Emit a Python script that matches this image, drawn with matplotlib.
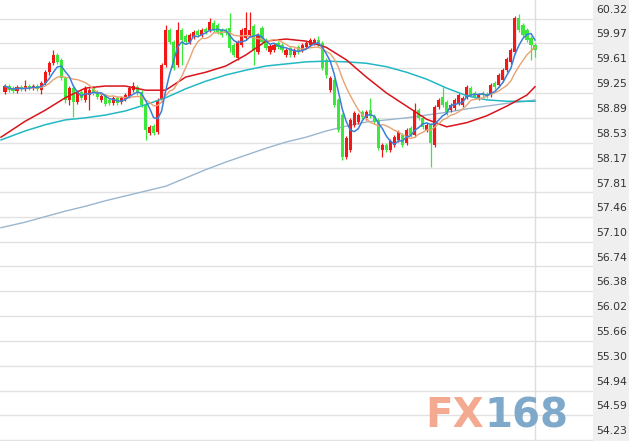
import numpy as np
import pandas as pd
import matplotlib
matplotlib.use('Agg')
import matplotlib.pyplot as plt
from matplotlib.patches import Rectangle

# K线数据 (每根K线: 开/高/低/收)
opens = [59.26, 59.35, 59.32, 59.28, 59.34, 59.31, 59.35, 59.32, 59.35, 59.29,
         59.39, 59.55, 59.68, 59.80, 59.73, 59.47, 59.15, 59.32, 59.12, 59.26,
         59.15, 59.22, 59.32, 59.26, 59.15, 59.21, 59.15, 59.10, 59.18, 59.12,
         59.16, 59.21, 59.29, 59.34, 59.26, 59.08, 58.67, 58.77, 58.69, 59.15,
         59.65, 60.16, 59.99, 59.65, 60.16, 60.07, 59.99, 60.06, 60.15, 60.09,
         60.18, 60.16, 60.26, 60.23, 60.16, 60.16, 60.19, 59.94, 59.76, 59.94,
         60.05, 60.09, 60.22, 59.84, 60.19, 60.02, 59.84, 59.87, 59.97, 59.94,
         59.80, 59.90, 59.80, 59.91, 59.87, 59.91, 59.94, 59.97, 60.02, 59.97,
         59.73, 59.29, 59.44, 59.15, 58.93, 58.32, 58.42, 58.79, 58.83, 58.97,
         58.89, 59.00, 58.92, 58.86, 58.42, 58.50, 58.42, 58.50, 58.57, 58.64,
         58.53, 58.74, 58.64, 59.00, 58.89, 58.71, 58.79, 58.50, 59.05, 59.19,
         59.12, 59.00, 59.03, 59.10, 59.08, 59.19, 59.32, 59.25, 59.18, 59.25,
         59.23, 59.22, 59.39, 59.37, 59.44, 59.58, 59.70, 59.84, 60.34, 60.23,
         60.16, 60.05, 59.94]
closes = [59.35, 59.29, 59.28, 59.34, 59.31, 59.35, 59.32, 59.35, 59.31, 59.39,
          59.55, 59.68, 59.80, 59.70, 59.47, 59.15, 59.32, 59.12, 59.26, 59.18,
          59.32, 59.29, 59.25, 59.19, 59.21, 59.09, 59.10, 59.18, 59.10, 59.18,
          59.22, 59.32, 59.35, 59.25, 59.08, 58.71, 58.76, 58.67, 59.15, 59.65,
          60.16, 59.99, 59.61, 60.16, 60.02, 59.99, 60.09, 60.13, 60.09, 60.16,
          60.13, 60.28, 60.16, 60.13, 60.09, 60.12, 59.90, 59.80, 59.99, 60.16,
          60.19, 60.16, 59.87, 60.09, 59.99, 59.90, 59.93, 59.94, 59.91, 59.87,
          59.87, 59.80, 59.87, 59.84, 59.94, 59.97, 60.02, 60.02, 59.94, 59.61,
          59.51, 59.47, 59.08, 58.71, 58.32, 58.60, 58.86, 58.96, 58.93, 58.90,
          58.97, 58.92, 58.83, 58.45, 58.50, 58.42, 58.56, 58.61, 58.69, 58.50,
          58.71, 58.64, 59.00, 58.89, 58.76, 58.79, 58.53, 59.05, 59.15, 59.08,
          58.96, 59.08, 59.15, 59.22, 59.18, 59.34, 59.22, 59.19, 59.22, 59.22,
          59.21, 59.37, 59.34, 59.51, 59.58, 59.74, 59.87, 60.34, 60.16, 60.09,
          60.02, 59.94, 59.87]
highs = [59.38, 59.38, 59.35, 59.37, 59.37, 59.44, 59.38, 59.38, 59.38, 59.42,
         59.58, 59.71, 59.87, 59.83, 59.76, 59.50, 59.35, 59.35, 59.29, 59.29,
         59.35, 59.32, 59.35, 59.29, 59.23, 59.23, 59.18, 59.21, 59.21, 59.21,
         59.25, 59.35, 59.41, 59.37, 59.29, 59.10, 58.79, 58.80, 59.18, 59.68,
         60.23, 60.19, 60.02, 60.28, 60.19, 60.10, 60.12, 60.16, 60.18, 60.19,
         60.20, 60.34, 60.31, 60.26, 60.19, 60.19, 60.41, 59.97, 60.02, 60.19,
         60.42, 60.42, 60.25, 60.12, 60.22, 60.05, 59.96, 59.97, 60.00, 59.97,
         59.90, 59.93, 59.90, 59.94, 59.97, 60.00, 60.05, 60.05, 60.07, 60.00,
         59.76, 59.50, 59.47, 59.18, 58.96, 58.63, 58.89, 58.99, 58.96, 59.00,
         59.00, 59.18, 58.94, 58.89, 58.53, 58.53, 58.58, 58.64, 58.71, 58.67,
         58.74, 58.77, 59.10, 59.03, 58.92, 58.82, 58.82, 59.08, 59.18, 59.34,
         59.15, 59.10, 59.18, 59.25, 59.21, 59.37, 59.35, 59.28, 59.25, 59.28,
         59.26, 59.39, 59.42, 59.54, 59.61, 59.77, 59.90, 60.36, 60.39, 60.26,
         60.19, 60.07, 59.97]
lows = [59.23, 59.26, 59.25, 59.25, 59.28, 59.28, 59.29, 59.29, 59.28, 59.23,
        59.37, 59.51, 59.65, 59.67, 59.44, 59.10, 59.08, 58.90, 59.09, 59.15,
        59.12, 59.00, 59.22, 59.16, 59.12, 59.06, 59.08, 59.08, 59.08, 59.09,
        59.13, 59.18, 59.26, 59.22, 59.05, 58.57, 58.64, 58.64, 58.66, 59.12,
        59.63, 59.96, 59.58, 59.63, 59.65, 59.96, 59.96, 60.03, 60.06, 60.06,
        60.10, 60.13, 60.13, 60.10, 60.06, 60.09, 59.84, 59.77, 59.73, 59.91,
        60.02, 60.06, 59.65, 59.81, 59.96, 59.87, 59.81, 59.84, 59.89, 59.84,
        59.77, 59.77, 59.77, 59.81, 59.84, 59.89, 59.91, 59.94, 59.91, 59.58,
        59.47, 59.26, 59.05, 58.69, 58.28, 58.29, 58.40, 58.76, 58.80, 58.87,
        58.86, 58.89, 58.80, 58.42, 58.32, 58.40, 58.40, 58.47, 58.54, 58.47,
        58.50, 58.61, 58.61, 58.86, 58.73, 58.69, 58.18, 58.47, 59.02, 59.05,
        58.93, 58.97, 59.00, 59.08, 59.05, 59.16, 59.19, 59.16, 59.15, 59.19,
        59.18, 59.19, 59.31, 59.34, 59.41, 59.55, 59.67, 59.81, 60.13, 60.06,
        59.99, 59.73, 59.77]

# 长周期均线 (按K线序号取样读数)
ma_idx = [-1, 5, 10, 15, 20, 25, 30, 35, 40, 45, 50, 55, 60, 65, 70, 75, 80,
          85, 90, 95, 100, 105, 110, 115, 120, 125, 130, 132]
ma_red = [58.61, 58.84, 59.00, 59.18, 59.32, 59.35, 59.35, 59.29, 59.29, 59.48,
          59.55, 59.64, 59.80, 60.00, 60.03, 60.00, 59.91, 59.73, 59.48, 59.25,
          59.06, 58.87, 58.76, 58.82, 58.92, 59.06, 59.22, 59.34]
ma_cyan = [58.57, 58.70, 58.79, 58.86, 58.89, 58.93, 58.99, 59.08, 59.18, 59.31,
           59.42, 59.51, 59.58, 59.64, 59.67, 59.70, 59.71, 59.70, 59.68, 59.63,
           59.55, 59.45, 59.32, 59.21, 59.15, 59.13, 59.13, 59.13]
ma_long = [57.30, 57.38, 57.46, 57.54, 57.61, 57.69, 57.76, 57.83, 57.90, 58.02,
           58.14, 58.25, 58.35, 58.45, 58.54, 58.61, 58.70, 58.77, 58.83, 58.86,
           58.89, 58.93, 58.97, 59.02, 59.06, 59.10, 59.13, 59.15]

price_ticks = [60.32, 59.97, 59.61, 59.25, 58.89, 58.53, 58.17, 57.81, 57.46,
               57.10, 56.74, 56.38, 56.02, 55.66, 55.30, 54.94, 54.59, 54.23]

df = pd.DataFrame({'open': opens, 'high': highs, 'low': lows, 'close': closes})
df['ma5'] = df['close'].rolling(5, min_periods=1).mean()
df['ma10'] = df['close'].rolling(10, min_periods=1).mean()
x = np.arange(len(df))

fig = plt.figure(figsize=(6.29, 4.41), dpi=100)
# 右侧价格栏
fig.patches.append(Rectangle((593 / 629, 0), 1 - 593 / 629, 1, transform=fig.transFigure,
                             color='#efefef', zorder=-1))
ax = fig.add_axes([0, 0, 593 / 629, 1])
ax.set_xlim(-1.245, 146.45)
ax.set_ylim(54.214, 60.595)
for s in ax.spines.values():
    s.set_visible(False)
ax.set_xticks([])
ax.set_yticks([])

for v in price_ticks:
    ax.axhline(v, color='#e2e2e2', lw=1, zorder=1)
    ax.annotate('%.2f' % v, xy=(1, v), xycoords=('axes fraction', 'data'),
                xytext=(2.5, 2.8), textcoords='offset points', ha='left', va='bottom',
                fontsize=7.8, color='#333333', annotation_clip=False)
ax.axvline(x[-1], color='#dddddd', lw=1, zorder=1)

up = df['close'] >= df['open']
colors = np.where(up, '#f21818', '#3ce83c')
ax.vlines(x, df['low'], df['high'], colors=colors, lw=0.9, zorder=3)
body = (df['close'] - df['open']).abs().clip(lower=0.015)
ax.bar(x, body, bottom=df[['open', 'close']].min(axis=1), width=0.78,
       color=colors, linewidth=0, zorder=3)

ax.plot(ma_idx, ma_long, color='#9ab6cf', lw=1, zorder=2)
ax.plot(ma_idx, ma_cyan, color='#22b8c4', lw=1.1, zorder=4)
ax.plot(ma_idx, ma_red, color='#d9141c', lw=1.1, zorder=4)
ax.plot(x, df['ma10'], color='#e8a273', lw=1, zorder=4)
ax.plot(x, df['ma5'], color='#3a7fd8', lw=1.1, zorder=5)

# 水印 FX168
fig.text(425 / 629, 1 - 427 / 441, 'FX', fontsize=29, fontweight='bold',
         color='#f3a68b', alpha=0.95, ha='left', va='baseline')
fig.text(484 / 629, 1 - 427 / 441, '168', fontsize=29, fontweight='bold',
         color='#78a5c7', alpha=0.95, ha='left', va='baseline')

plt.savefig('out.png', dpi=100)
